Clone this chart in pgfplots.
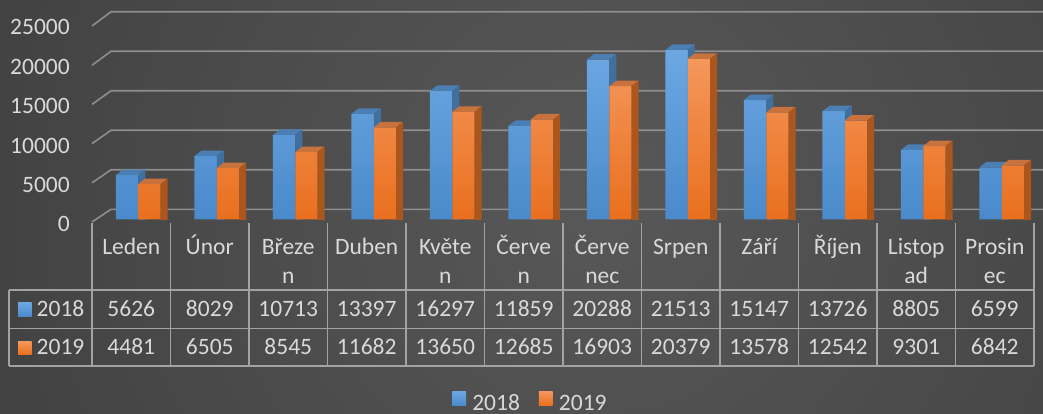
\documentclass[border=0pt]{standalone}
\usepackage{pgfplots}
\pgfplotsset{compat=1.18}
\usepackage{pgfplotstable}
\usepackage{fontspec}
\setmainfont{Carlito}
\definecolor{bgin}{HTML}{585858}
\definecolor{bgout}{HTML}{2E2E2E}
\definecolor{txt}{HTML}{D9D9D9}
\definecolor{gridc}{HTML}{8E8E8E}
\definecolor{tline}{HTML}{A3A3A3}
\definecolor{bft}{HTML}{6CA7E2}
\definecolor{bfb}{HTML}{4A8ACB}
\definecolor{btop}{HTML}{4B7EB3}
\definecolor{bside}{HTML}{41709F}
\definecolor{oft}{HTML}{F5975C}
\definecolor{ofb}{HTML}{E96F1E}
\definecolor{otop}{HTML}{C8733D}
\definecolor{oside}{HTML}{AA561D}
\pgfdeclareradialshading{bg}{\pgfpoint{0bp}{0bp}}{color(0bp)=(bgin); color(25bp)=(bgout); color(50bp)=(bgout)}
% top face and (clipped) side face of a 3-D column, drawn at the data point
\pgfdeclareplotmark{capb}{%
  \pgfpathmoveto{\pgfqpoint{-15.3pt}{0pt}}\pgfpathlineto{\pgfqpoint{7pt}{0pt}}%
  \pgfpathlineto{\pgfqpoint{14pt}{5.5pt}}\pgfpathlineto{\pgfqpoint{-8.3pt}{5.5pt}}\pgfpathclose
  \pgfsetfillcolor{btop}\pgfusepath{fill}%
  \pgfpathmoveto{\pgfqpoint{7pt}{0pt}}\pgfpathlineto{\pgfqpoint{14pt}{5.5pt}}%
  \pgfpathlineto{\pgfqpoint{14pt}{-300pt}}\pgfpathlineto{\pgfqpoint{7pt}{-300pt}}\pgfpathclose
  \pgfsetfillcolor{bside}\pgfusepath{fill}%
}
\pgfdeclareplotmark{capo}{%
  \pgfpathmoveto{\pgfqpoint{7pt}{0pt}}\pgfpathlineto{\pgfqpoint{29.3pt}{0pt}}%
  \pgfpathlineto{\pgfqpoint{36.3pt}{5.5pt}}\pgfpathlineto{\pgfqpoint{14pt}{5.5pt}}\pgfpathclose
  \pgfsetfillcolor{otop}\pgfusepath{fill}%
  \pgfpathmoveto{\pgfqpoint{29.3pt}{0pt}}\pgfpathlineto{\pgfqpoint{36.3pt}{5.5pt}}%
  \pgfpathlineto{\pgfqpoint{36.3pt}{-300pt}}\pgfpathlineto{\pgfqpoint{29.3pt}{-300pt}}\pgfpathclose
  \pgfsetfillcolor{oside}\pgfusepath{fill}%
}
\newcommand\cf{\fontsize{23.5}{28}\selectfont}
\pgfplotstableread{
x a b
0.5 5626 4481
1.5 8029 6505
2.5 10713 8545
3.5 13397 11682
4.5 16297 13650
5.5 11859 12685
6.5 20288 16903
7.5 21513 20379
8.5 15147 13578
9.5 13726 12542
10.5 8805 9301
11.5 6599 6842
}\data
\begin{document}
\begin{tikzpicture}
\useasboundingbox (0pt,0pt) rectangle (1043pt,-414pt);
\clip (0pt,0pt) rectangle (1043pt,-414pt);
\begin{scope}[x=1pt,y=-1pt]
\fill[bgout] (0,0) rectangle (1043,414);
\shade[shading=bg] (600,200) circle (1200);
\foreach \k in {0,...,5}{
  \draw[gridc, line width=1.6pt] (92, 222-39.2*\k) -- (111, 209.3-39.5*\k) -- (1043, 209.3-39.5*\k);
}
\draw[tline, line width=1.6pt] (9,290) -- (1034,290) (9,328.3) -- (1034,328.3) (9,366) -- (1034,366) (9,290) -- (9,366);
\foreach \k in {0,...,12}{ \draw[tline, line width=1.6pt] (92+78.5*\k, 223) -- (92+78.5*\k, 366); }
\foreach \a/\b [count=\k from 0] in {Leden/{},Únor/{},Březe/n,Duben/{},Květe/n,Červe/n,Červe/nec,Srpen/{},Září/{},Říjen/{},Listop/ad,Prosin/ec}{
  \node[anchor=base, inner sep=0pt, text=txt, font=\cf] at (131.25+78.5*\k, 254.5) {\a};
  \node[anchor=base, inner sep=0pt, text=txt, font=\cf] at (131.25+78.5*\k, 283.3) {\b};
}
\foreach \a/\b [count=\k from 0] in {5626/4481,8029/6505,10713/8545,13397/11682,16297/13650,11859/12685,20288/16903,21513/20379,15147/13578,13726/12542,8805/9301,6599/6842}{
  \node[anchor=base, inner sep=0pt, text=txt, font=\cf] at (131.25+78.5*\k, 316.5) {\a};
  \node[anchor=base, inner sep=0pt, text=txt, font=\cf] at (131.25+78.5*\k, 354.3) {\b};
}
\shade[top color=bft, bottom color=bfb] (18,302.7) rectangle (31.7,316);
\shade[top color=oft, bottom color=ofb] (18,341.2) rectangle (31.7,354.5);
\node[anchor=base west, inner sep=0pt, text=txt, font=\cf] at (36.5,316.5) {2018};
\node[anchor=base west, inner sep=0pt, text=txt, font=\cf] at (36.5,354.3) {2019};
\end{scope}
\begin{axis}[
  at={(92pt,-219.3pt)}, anchor=south west,
  x=78.5pt, y=7.874pt,
  xmin=0, xmax=12, ymin=0, ymax=25,
  clip marker paths=true,
  axis line style={draw=none},
  major tick length=0pt,
  xtick=\empty,
  ytick={0,5,10,15,20,25},
  yticklabels={0,5000,10000,15000,20000,25000},
  yticklabel style={anchor=base east, inner sep=0pt, xshift=-22pt, yshift=-12.5pt, font=\cf, text=txt},
  legend columns=2,
  legend style={draw=none, fill=none, at={(axis description cs:0.4644,-0.874)}, anchor=north, font=\cf, text=txt, inner sep=0pt, nodes={inner sep=0pt}, column sep=6.3pt, /tikz/every even column/.append style={column sep=19pt}},
]
\addplot[ybar, bar width=22.3pt, bar shift=-4.15pt, draw=none, top color=bft, bottom color=bfb,
  legend image code/.code={\shade[top color=bft,bottom color=bfb] (0pt,-1.7pt) rectangle (13.7pt,12pt);}]
  table[x=x,y expr=\thisrow{a}/1000]{\data};
\addlegendentry{2018}
\addplot[only marks, mark=capb, forget plot] table[x=x,y expr=\thisrow{a}/1000]{\data};
\addplot[ybar, bar width=22.3pt, bar shift=18.15pt, draw=none, top color=oft, bottom color=ofb,
  legend image code/.code={\shade[top color=oft,bottom color=ofb] (0pt,-1.7pt) rectangle (13.7pt,12pt);}]
  table[x=x,y expr=\thisrow{b}/1000]{\data};
\addlegendentry{2019}
\addplot[only marks, mark=capo, forget plot] table[x=x,y expr=\thisrow{b}/1000]{\data};
\end{axis}
\end{tikzpicture}
\end{document}
